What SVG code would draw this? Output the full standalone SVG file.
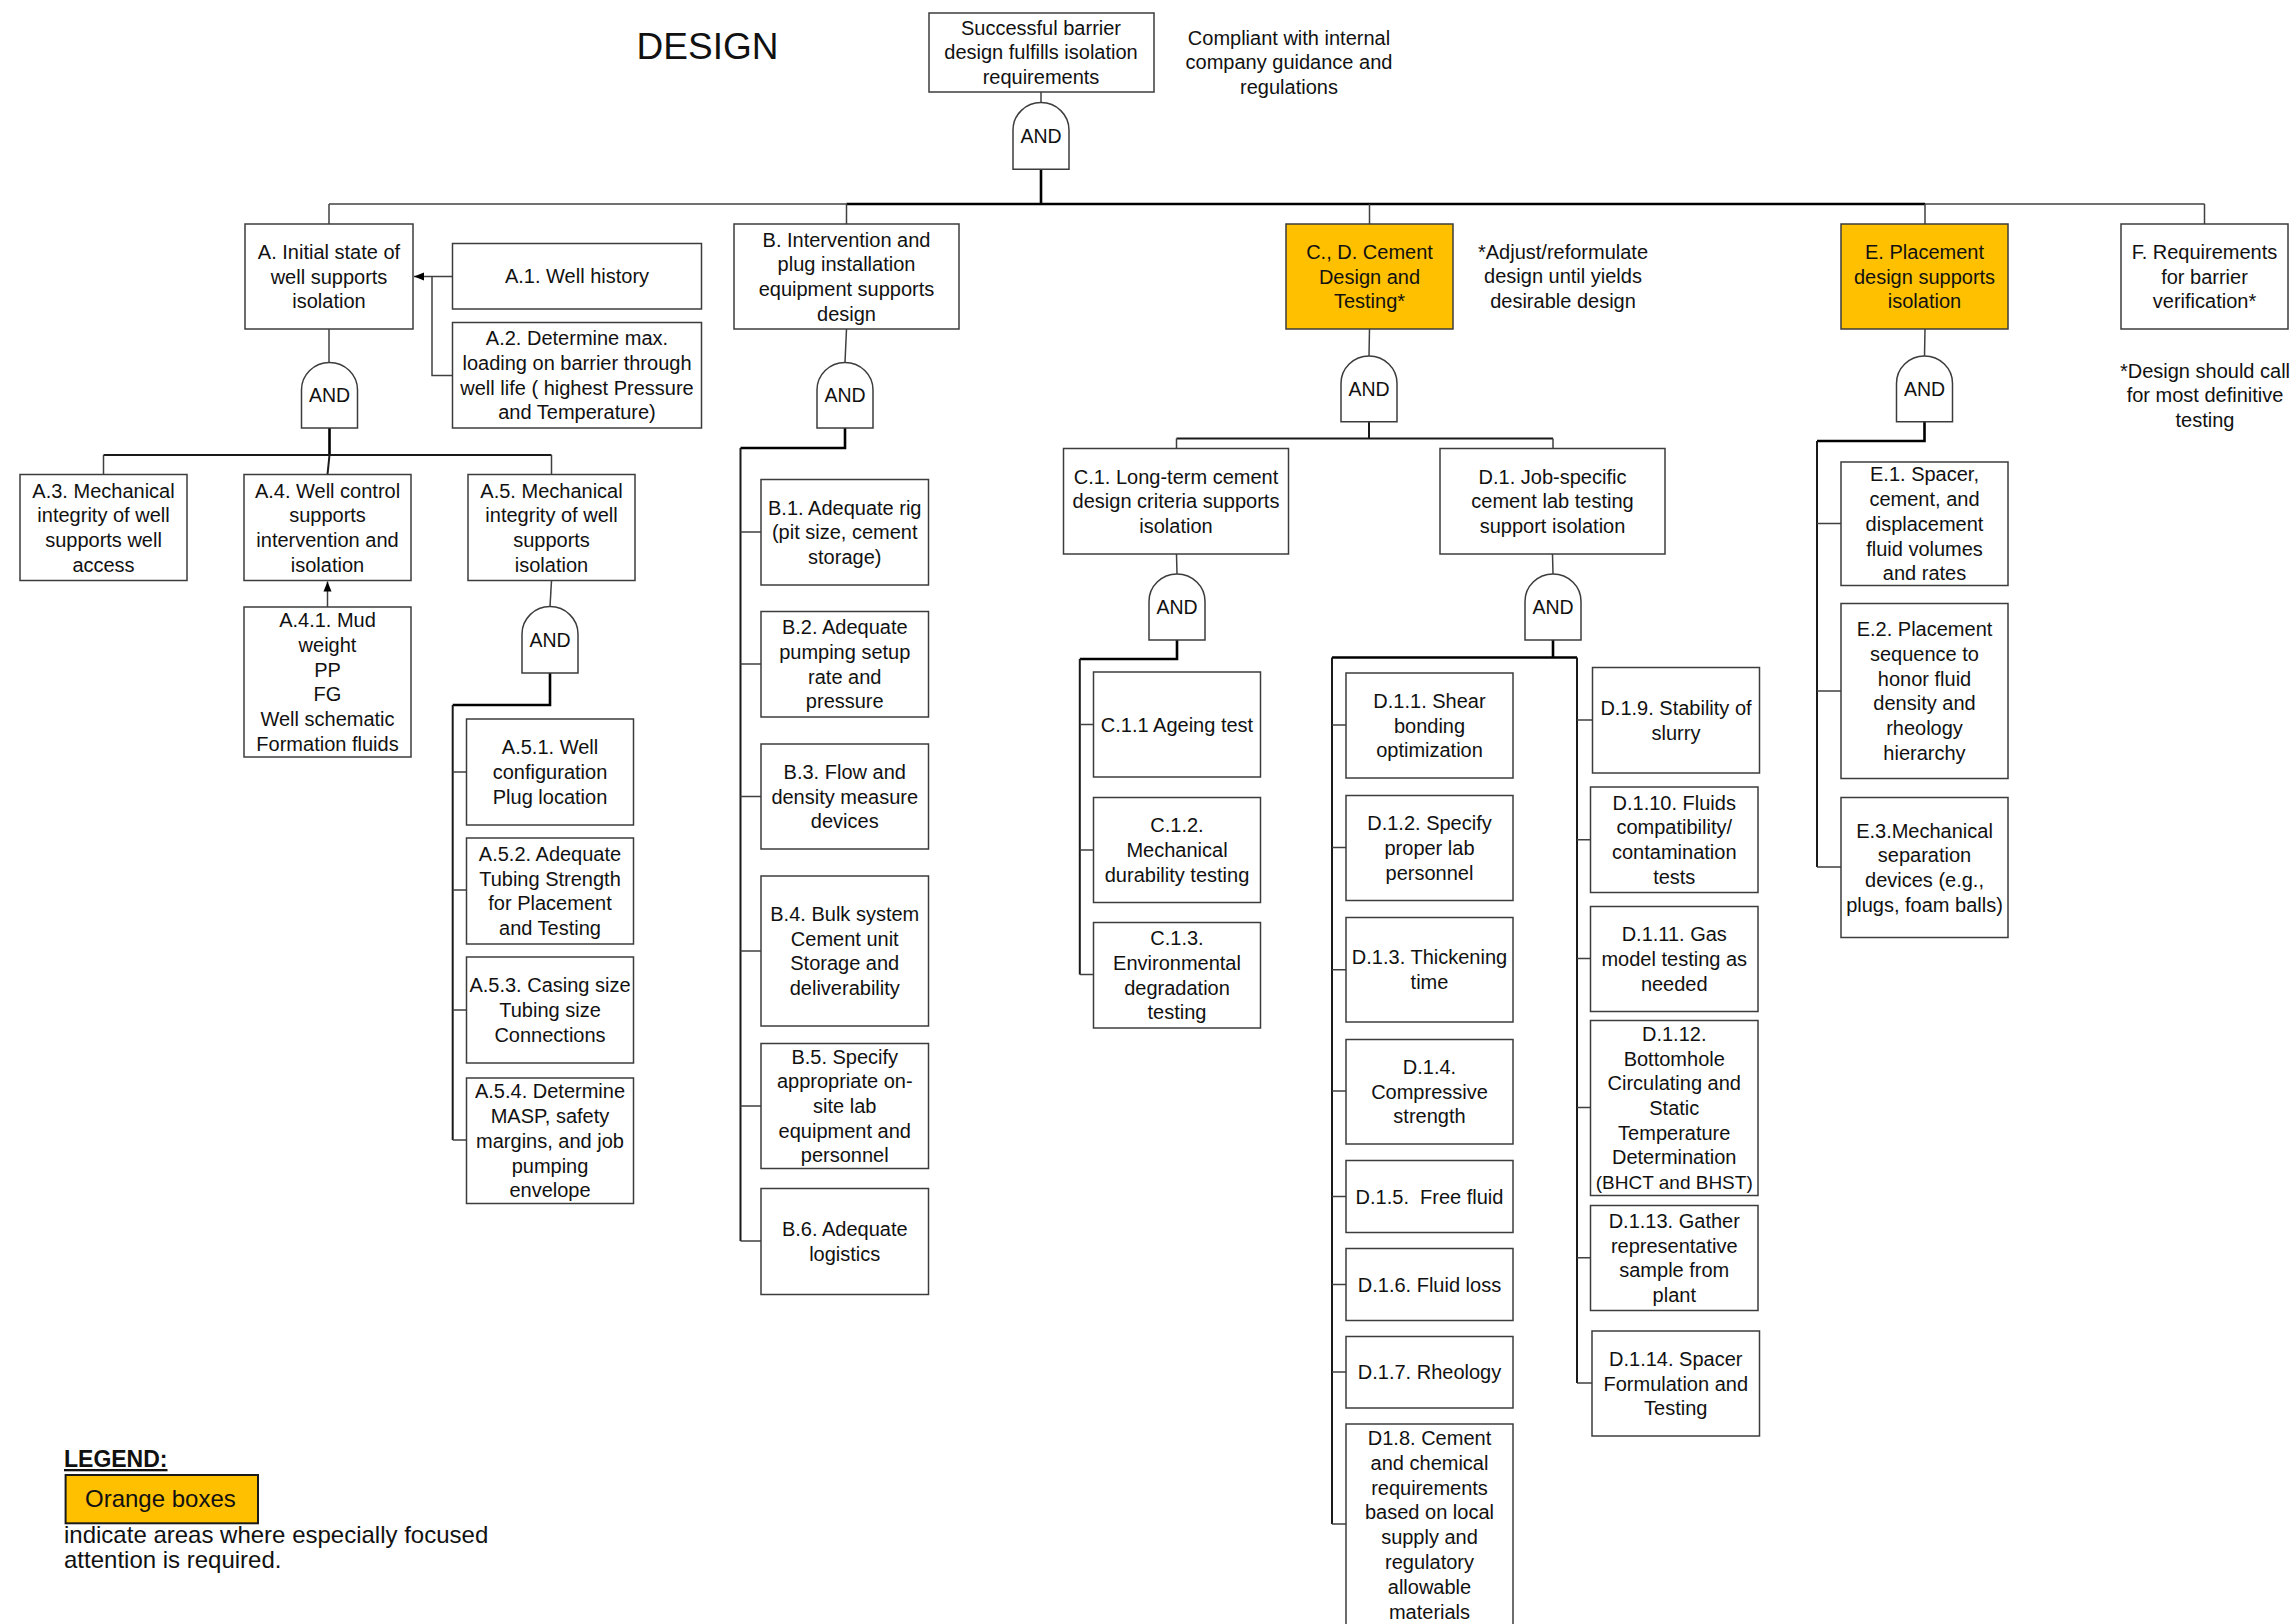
<svg xmlns="http://www.w3.org/2000/svg" width="2293" height="1624" viewBox="0 0 2293 1624">
  <style>
    .box { fill: #ffffff; stroke: #3c3c3c; stroke-width: 1.5; }
    .hl { fill: #ffc000; }
    .gate { fill: #ffffff; stroke: #3c3c3c; stroke-width: 1.5; }
    .t { font-family: "Liberation Sans", Arial, sans-serif; font-size: 20px; text-anchor: middle; fill: #111111; }
    .g { font-family: "Liberation Sans", Arial, sans-serif; font-size: 19.5px; text-anchor: middle; fill: #111111; }
    .c { fill: none; stroke: #404040; stroke-width: 1.5; }
    .m { fill: none; stroke: #1a1a1a; stroke-width: 2; }
    .k { fill: none; stroke: #000000; stroke-width: 2.6; }
    .lg { font-family: "Liberation Sans", Arial, sans-serif; font-size: 24px; fill: #111111; }
  </style>
  <defs>
    <marker id="arrow" markerUnits="userSpaceOnUse" markerWidth="11" markerHeight="10" refX="10" refY="5" orient="auto">
      <path d="M0,1 L10,5 L0,9 Z" fill="#000000"/>
    </marker>
  </defs>
  <rect width="2293" height="1624" fill="#ffffff"/>

  <text x="707.5" y="59" font-family="Liberation Sans, Arial, sans-serif" font-size="37" text-anchor="middle" fill="#111111">DESIGN</text>

  <!-- connectors -->
  <g id="connectors">
    <path class="c" d="M1041 92 V102.6"/>
    <path class="k" d="M1041 169.2 V204"/>
    <path class="c" d="M329 204 H846.5"/>
    <path class="k" d="M846.5 204 H1925"/>
    <path class="c" d="M1925 204 H2204.5"/>
    <path class="c" d="M329 204 V224 M846.5 204 V224 M1369.5 204 V224 M1925 204 V224 M2204.5 204 V224"/>

    <!-- A branch -->
    <path class="c" d="M329 329 V362.4"/>
    <path class="k" d="M329.5 428 V455"/>
    <path class="m" d="M103.5 455 H551.5"/>
    <path class="c" d="M103.5 455 V474.5 M551.5 455 V474.5"/>
    <path class="m" d="M329.5 455 L327.5 474.5"/>
    <path class="c" d="M452.5 276.5 H414" marker-end="url(#arrow)"/>
    <path class="c" d="M452.5 375.5 H432 V276.5"/>
    <path class="c" d="M327.5 607 V581.5" marker-end="url(#arrow)"/>
    <path class="c" d="M551.5 580.6 L550 606.6"/>
    <path class="k" d="M550 673 V705 H452.7"/>
    <path class="m" d="M452.7 705 V1140"/>
    <path class="c" d="M452.7 772 H466.5 M452.7 890 H466.5 M452.7 1010 H466.5 M452.7 1140 H466.5"/>

    <!-- B branch -->
    <path class="c" d="M846.5 329 L845 362.4"/>
    <path class="k" d="M845 428 V448 H740.5"/>
    <path class="m" d="M740.5 448 V1241"/>
    <path class="c" d="M740.5 532 H761 M740.5 664 H761 M740.5 796.5 H761 M740.5 951 H761 M740.5 1106 H761 M740.5 1241 H761"/>

    <!-- C, D branch -->
    <path class="c" d="M1369.5 329 L1369 356"/>
    <path class="m" d="M1369 421.7 V438.6"/>
    <path class="m" d="M1176.5 438.6 H1553"/>
    <path class="c" d="M1176.5 438.6 V448.5 M1553 438.6 V448.5"/>

    <path class="c" d="M1176.5 554 L1177 574"/>
    <path class="k" d="M1177 640 V659 H1079.8"/>
    <path class="m" d="M1079.8 659 V974.6"/>
    <path class="c" d="M1079.8 724.5 H1093.5 M1079.8 850 H1093.5 M1079.8 974.6 H1093.5"/>

    <path class="c" d="M1552.5 554 L1553 574"/>
    <path class="k" d="M1553 640 V657.5"/>
    <path class="k" d="M1332 657.5 H1577"/>
    <path class="m" d="M1332 657.5 V1524 M1577 657.5 V1383"/>
    <path class="c" d="M1332 725 H1346 M1332 847.5 H1346 M1332 969.7 H1346 M1332 1091 H1346 M1332 1196.5 H1346 M1332 1284.5 H1346 M1332 1372 H1346 M1332 1524 H1346"/>
    <path class="c" d="M1577 720 H1592.5 M1577 839.7 H1590.5 M1577 958.6 H1590.5 M1577 1107.5 H1590.5 M1577 1257.7 H1590.5 M1577 1383 H1592"/>

    <!-- E branch -->
    <path class="c" d="M1925 329 L1924.5 356"/>
    <path class="k" d="M1924.5 421.7 V441 H1817"/>
    <path class="m" d="M1817 441 V867"/>
    <path class="c" d="M1817 523.5 H1841 M1817 691 H1841 M1817 867 H1841"/>
  </g>

  <!-- AND gates -->
  <g id="gate-top">
    <path class="gate" d="M1013 169.2 V130 A28 27.4 0 0 1 1069 130 V169.2 Z"/>
    <text class="g" x="1041" y="143">AND</text>
  </g>
  <g id="gate-a">
    <path class="gate" d="M301.5 428 V389.8 A28 27.4 0 0 1 357.5 389.8 V428 Z"/>
    <text class="g" x="329.5" y="402.3">AND</text>
  </g>
  <g id="gate-b">
    <path class="gate" d="M817 428 V389.8 A28 27.4 0 0 1 873 389.8 V428 Z"/>
    <text class="g" x="845" y="402.3">AND</text>
  </g>
  <g id="gate-cd">
    <path class="gate" d="M1341 421.7 V383.4 A28 27.4 0 0 1 1397 383.4 V421.7 Z"/>
    <text class="g" x="1369" y="396">AND</text>
  </g>
  <g id="gate-e">
    <path class="gate" d="M1896.5 421.7 V383.4 A28 27.4 0 0 1 1952.5 383.4 V421.7 Z"/>
    <text class="g" x="1924.5" y="396">AND</text>
  </g>
  <g id="gate-a5">
    <path class="gate" d="M522 673 V634 A28 27.4 0 0 1 578 634 V673 Z"/>
    <text class="g" x="550" y="647">AND</text>
  </g>
  <g id="gate-c1">
    <path class="gate" d="M1149 640 V601.4 A28 27.4 0 0 1 1205 601.4 V640 Z"/>
    <text class="g" x="1177" y="614.2">AND</text>
  </g>
  <g id="gate-d1">
    <path class="gate" d="M1525 640 V601.4 A28 27.4 0 0 1 1581 601.4 V640 Z"/>
    <text class="g" x="1553" y="614.2">AND</text>
  </g>

  <!-- top event -->
  <g id="top">
    <rect class="box" x="929" y="13" width="225" height="79"/>
    <text class="t" x="1041" y="34.7"><tspan x="1041">Successful barrier</tspan><tspan x="1041" dy="24.7">design fulfills isolation</tspan><tspan x="1041" dy="24.7">requirements</tspan></text>
  </g>
  <g id="note-compliant">
    <text class="t" x="1289" y="44.6"><tspan x="1289">Compliant with internal</tspan><tspan x="1289" dy="24.7">company guidance and</tspan><tspan x="1289" dy="24.7">regulations</tspan></text>
  </g>

  <!-- A -->
  <g id="node-a">
    <rect class="box" x="245" y="224" width="168" height="105"/>
    <text class="t" x="329" y="258.8"><tspan x="329">A. Initial state of</tspan><tspan x="329" dy="24.7">well supports</tspan><tspan x="329" dy="24.7">isolation</tspan></text>
  </g>
  <g id="node-a1">
    <rect class="box" x="452.5" y="243.5" width="249" height="65.5"/>
    <text class="t" x="577" y="283.3">A.1. Well history</text>
  </g>
  <g id="node-a2">
    <rect class="box" x="452.5" y="322.5" width="249" height="105.5"/>
    <text class="t" x="577" y="345.3"><tspan x="577">A.2. Determine max.</tspan><tspan x="577" dy="24.7">loading on barrier through</tspan><tspan x="577" dy="24.7">well life ( highest Pressure</tspan><tspan x="577" dy="24.7">and Temperature)</tspan></text>
  </g>
  <g id="node-a3">
    <rect class="box" x="20" y="474.5" width="167" height="106"/>
    <text class="t" x="103.5" y="497.5"><tspan x="103.5">A.3. Mechanical</tspan><tspan x="103.5" dy="24.7">integrity of well</tspan><tspan x="103.5" dy="24.7">supports well</tspan><tspan x="103.5" dy="24.7">access</tspan></text>
  </g>
  <g id="node-a4">
    <rect class="box" x="244" y="474.5" width="167" height="106"/>
    <text class="t" x="327.5" y="497.5"><tspan x="327.5">A.4. Well control</tspan><tspan x="327.5" dy="24.7">supports</tspan><tspan x="327.5" dy="24.7">intervention and</tspan><tspan x="327.5" dy="24.7">isolation</tspan></text>
  </g>
  <g id="node-a5">
    <rect class="box" x="468" y="474.5" width="167" height="106"/>
    <text class="t" x="551.5" y="497.5"><tspan x="551.5">A.5. Mechanical</tspan><tspan x="551.5" dy="24.7">integrity of well</tspan><tspan x="551.5" dy="24.7">supports</tspan><tspan x="551.5" dy="24.7">isolation</tspan></text>
  </g>
  <g id="node-a41">
    <rect class="box" x="244" y="607" width="167" height="150"/>
    <text class="t" x="327.5" y="627.3"><tspan x="327.5">A.4.1. Mud</tspan><tspan x="327.5" dy="24.7">weight</tspan><tspan x="327.5" dy="24.7">PP</tspan><tspan x="327.5" dy="24.7">FG</tspan><tspan x="327.5" dy="24.7">Well schematic</tspan><tspan x="327.5" dy="24.7">Formation fluids</tspan></text>
  </g>
  <g id="node-a51">
    <rect class="box" x="466.5" y="719" width="167" height="106"/>
    <text class="t" x="550" y="754.3"><tspan x="550">A.5.1. Well</tspan><tspan x="550" dy="24.7">configuration</tspan><tspan x="550" dy="24.7">Plug location</tspan></text>
  </g>
  <g id="node-a52">
    <rect class="box" x="466.5" y="838" width="167" height="106"/>
    <text class="t" x="550" y="861"><tspan x="550">A.5.2. Adequate</tspan><tspan x="550" dy="24.7">Tubing Strength</tspan><tspan x="550" dy="24.7">for Placement</tspan><tspan x="550" dy="24.7">and Testing</tspan></text>
  </g>
  <g id="node-a53">
    <rect class="box" x="466.5" y="957" width="167" height="106"/>
    <text class="t" x="550" y="992.3"><tspan x="550">A.5.3. Casing size</tspan><tspan x="550" dy="24.7">Tubing size</tspan><tspan x="550" dy="24.7">Connections</tspan></text>
  </g>
  <g id="node-a54">
    <rect class="box" x="466.5" y="1078" width="167" height="125.5"/>
    <text class="t" x="550" y="1098.4"><tspan x="550">A.5.4. Determine</tspan><tspan x="550" dy="24.7">MASP, safety</tspan><tspan x="550" dy="24.7">margins, and job</tspan><tspan x="550" dy="24.7">pumping</tspan><tspan x="550" dy="24.7">envelope</tspan></text>
  </g>

  <!-- B -->
  <g id="node-b">
    <rect class="box" x="734" y="224" width="225" height="105"/>
    <text class="t" x="846.5" y="246.5"><tspan x="846.5">B. Intervention and</tspan><tspan x="846.5" dy="24.7">plug installation</tspan><tspan x="846.5" dy="24.7">equipment supports</tspan><tspan x="846.5" dy="24.7">design</tspan></text>
  </g>
  <g id="node-b1">
    <rect class="box" x="761" y="479.5" width="167.5" height="105.5"/>
    <text class="t" x="844.75" y="514.6"><tspan x="844.75">B.1. Adequate rig</tspan><tspan x="844.75" dy="24.7">(pit size, cement</tspan><tspan x="844.75" dy="24.7">storage)</tspan></text>
  </g>
  <g id="node-b2">
    <rect class="box" x="761" y="611.5" width="167.5" height="105.5"/>
    <text class="t" x="844.75" y="634.2"><tspan x="844.75">B.2. Adequate</tspan><tspan x="844.75" dy="24.7">pumping setup</tspan><tspan x="844.75" dy="24.7">rate and</tspan><tspan x="844.75" dy="24.7">pressure</tspan></text>
  </g>
  <g id="node-b3">
    <rect class="box" x="761" y="744" width="167.5" height="105"/>
    <text class="t" x="844.75" y="778.8"><tspan x="844.75">B.3. Flow and</tspan><tspan x="844.75" dy="24.7">density measure</tspan><tspan x="844.75" dy="24.7">devices</tspan></text>
  </g>
  <g id="node-b4">
    <rect class="box" x="761" y="876" width="167.5" height="150"/>
    <text class="t" x="844.75" y="921"><tspan x="844.75">B.4. Bulk system</tspan><tspan x="844.75" dy="24.7">Cement unit</tspan><tspan x="844.75" dy="24.7">Storage and</tspan><tspan x="844.75" dy="24.7">deliverability</tspan></text>
  </g>
  <g id="node-b5">
    <rect class="box" x="761" y="1043.5" width="167.5" height="125"/>
    <text class="t" x="844.75" y="1063.6"><tspan x="844.75">B.5. Specify</tspan><tspan x="844.75" dy="24.7">appropriate on-</tspan><tspan x="844.75" dy="24.7">site lab</tspan><tspan x="844.75" dy="24.7">equipment and</tspan><tspan x="844.75" dy="24.7">personnel</tspan></text>
  </g>
  <g id="node-b6">
    <rect class="box" x="761" y="1188.5" width="167.5" height="106"/>
    <text class="t" x="844.75" y="1236.2"><tspan x="844.75">B.6. Adequate</tspan><tspan x="844.75" dy="24.7">logistics</tspan></text>
  </g>

  <!-- C, D -->
  <g id="node-cd">
    <rect class="box hl" x="1286" y="224" width="167" height="105"/>
    <text class="t" x="1369.5" y="258.8"><tspan x="1369.5">C., D. Cement</tspan><tspan x="1369.5" dy="24.7">Design and</tspan><tspan x="1369.5" dy="24.7">Testing*</tspan></text>
  </g>
  <g id="note-adjust">
    <text class="t" x="1563" y="258.5"><tspan x="1563">*Adjust/reformulate</tspan><tspan x="1563" dy="24.9">design until yields</tspan><tspan x="1563" dy="24.9">desirable design</tspan></text>
  </g>
  <g id="node-c1">
    <rect class="box" x="1063.5" y="448.5" width="225" height="105.5"/>
    <text class="t" x="1176" y="483.6"><tspan x="1176">C.1. Long-term cement</tspan><tspan x="1176" dy="24.7">design criteria supports</tspan><tspan x="1176" dy="24.7">isolation</tspan></text>
  </g>
  <g id="node-d1">
    <rect class="box" x="1440" y="448.5" width="225" height="105.5"/>
    <text class="t" x="1552.5" y="483.6"><tspan x="1552.5">D.1. Job-specific</tspan><tspan x="1552.5" dy="24.7">cement lab testing</tspan><tspan x="1552.5" dy="24.7">support isolation</tspan></text>
  </g>
  <g id="node-c11">
    <rect class="box" x="1093.5" y="672" width="167" height="105"/>
    <text class="t" x="1177" y="731.5">C.1.1 Ageing test</text>
  </g>
  <g id="node-c12">
    <rect class="box" x="1093.5" y="797.5" width="167" height="105"/>
    <text class="t" x="1177" y="832.3"><tspan x="1177">C.1.2.</tspan><tspan x="1177" dy="24.7">Mechanical</tspan><tspan x="1177" dy="24.7">durability testing</tspan></text>
  </g>
  <g id="node-c13">
    <rect class="box" x="1093.5" y="922.5" width="167" height="105.5"/>
    <text class="t" x="1177" y="945.2"><tspan x="1177">C.1.3.</tspan><tspan x="1177" dy="24.7">Environmental</tspan><tspan x="1177" dy="24.7">degradation</tspan><tspan x="1177" dy="24.7">testing</tspan></text>
  </g>
  <g id="node-d11">
    <rect class="box" x="1346" y="673" width="167" height="105"/>
    <text class="t" x="1429.5" y="707.8"><tspan x="1429.5">D.1.1. Shear</tspan><tspan x="1429.5" dy="24.7">bonding</tspan><tspan x="1429.5" dy="24.7">optimization</tspan></text>
  </g>
  <g id="node-d12">
    <rect class="box" x="1346" y="795.5" width="167" height="105"/>
    <text class="t" x="1429.5" y="830.3"><tspan x="1429.5">D.1.2. Specify</tspan><tspan x="1429.5" dy="24.7">proper lab</tspan><tspan x="1429.5" dy="24.7">personnel</tspan></text>
  </g>
  <g id="node-d13">
    <rect class="box" x="1346" y="917.5" width="167" height="104.5"/>
    <text class="t" x="1429.5" y="964.4"><tspan x="1429.5">D.1.3. Thickening</tspan><tspan x="1429.5" dy="24.7">time</tspan></text>
  </g>
  <g id="node-d14">
    <rect class="box" x="1346" y="1039.5" width="167" height="104.5"/>
    <text class="t" x="1429.5" y="1074"><tspan x="1429.5">D.1.4.</tspan><tspan x="1429.5" dy="24.7">Compressive</tspan><tspan x="1429.5" dy="24.7">strength</tspan></text>
  </g>
  <g id="node-d15">
    <rect class="box" x="1346" y="1160.5" width="167" height="72"/>
    <text class="t" x="1429.5" y="1203.5" xml:space="preserve">D.1.5.  Free fluid</text>
  </g>
  <g id="node-d16">
    <rect class="box" x="1346" y="1248.5" width="167" height="72"/>
    <text class="t" x="1429.5" y="1291.5">D.1.6. Fluid loss</text>
  </g>
  <g id="node-d17">
    <rect class="box" x="1346" y="1336.5" width="167" height="71.5"/>
    <text class="t" x="1429.5" y="1379.3">D.1.7. Rheology</text>
  </g>
  <g id="node-d18">
    <rect class="box" x="1346" y="1424" width="167" height="230"/>
    <text class="t" x="1429.5" y="1445"><tspan x="1429.5">D1.8. Cement</tspan><tspan x="1429.5" dy="24.8">and chemical</tspan><tspan x="1429.5" dy="24.8">requirements</tspan><tspan x="1429.5" dy="24.8">based on local</tspan><tspan x="1429.5" dy="24.8">supply and</tspan><tspan x="1429.5" dy="24.8">regulatory</tspan><tspan x="1429.5" dy="24.8">allowable</tspan><tspan x="1429.5" dy="24.8">materials</tspan></text>
  </g>
  <g id="node-d19">
    <rect class="box" x="1592.5" y="667.5" width="167" height="105.5"/>
    <text class="t" x="1676" y="714.9"><tspan x="1676">D.1.9. Stability of</tspan><tspan x="1676" dy="24.7">slurry</tspan></text>
  </g>
  <g id="node-d110">
    <rect class="box" x="1590.5" y="787" width="167.5" height="105.5"/>
    <text class="t" x="1674.25" y="809.7"><tspan x="1674.25">D.1.10. Fluids</tspan><tspan x="1674.25" dy="24.7">compatibility/</tspan><tspan x="1674.25" dy="24.7">contamination</tspan><tspan x="1674.25" dy="24.7">tests</tspan></text>
  </g>
  <g id="node-d111">
    <rect class="box" x="1590.5" y="906.5" width="167.5" height="105"/>
    <text class="t" x="1674.25" y="941.3"><tspan x="1674.25">D.1.11. Gas</tspan><tspan x="1674.25" dy="24.7">model testing as</tspan><tspan x="1674.25" dy="24.7">needed</tspan></text>
  </g>
  <g id="node-d112">
    <rect class="box" x="1590.5" y="1020.5" width="167.5" height="175"/>
    <text class="t" x="1674.25" y="1040.9"><tspan x="1674.25">D.1.12.</tspan><tspan x="1674.25" dy="24.7">Bottomhole</tspan><tspan x="1674.25" dy="24.7">Circulating and</tspan><tspan x="1674.25" dy="24.7">Static</tspan><tspan x="1674.25" dy="24.7">Temperature</tspan><tspan x="1674.25" dy="24.7">Determination</tspan><tspan x="1674.25" dy="24.7" font-size="19">(BHCT and BHST)</tspan></text>
  </g>
  <g id="node-d113">
    <rect class="box" x="1590.5" y="1205.5" width="167.5" height="105"/>
    <text class="t" x="1674.25" y="1228"><tspan x="1674.25">D.1.13. Gather</tspan><tspan x="1674.25" dy="24.7">representative</tspan><tspan x="1674.25" dy="24.7">sample from</tspan><tspan x="1674.25" dy="24.7">plant</tspan></text>
  </g>
  <g id="node-d114">
    <rect class="box" x="1592" y="1331" width="167.5" height="105"/>
    <text class="t" x="1675.75" y="1365.8"><tspan x="1675.75">D.1.14. Spacer</tspan><tspan x="1675.75" dy="24.7">Formulation and</tspan><tspan x="1675.75" dy="24.7">Testing</tspan></text>
  </g>

  <!-- E -->
  <g id="node-e">
    <rect class="box hl" x="1841" y="224" width="167" height="105"/>
    <text class="t" x="1924.5" y="258.8"><tspan x="1924.5">E. Placement</tspan><tspan x="1924.5" dy="24.7">design supports</tspan><tspan x="1924.5" dy="24.7">isolation</tspan></text>
  </g>
  <g id="node-e1">
    <rect class="box" x="1841" y="462" width="167" height="123.5"/>
    <text class="t" x="1924.5" y="481.4"><tspan x="1924.5">E.1. Spacer,</tspan><tspan x="1924.5" dy="24.7">cement, and</tspan><tspan x="1924.5" dy="24.7">displacement</tspan><tspan x="1924.5" dy="24.7">fluid volumes</tspan><tspan x="1924.5" dy="24.7">and rates</tspan></text>
  </g>
  <g id="node-e2">
    <rect class="box" x="1841" y="603.5" width="167" height="175"/>
    <text class="t" x="1924.5" y="636.3"><tspan x="1924.5">E.2. Placement</tspan><tspan x="1924.5" dy="24.7">sequence to</tspan><tspan x="1924.5" dy="24.7">honor fluid</tspan><tspan x="1924.5" dy="24.7">density and</tspan><tspan x="1924.5" dy="24.7">rheology</tspan><tspan x="1924.5" dy="24.7">hierarchy</tspan></text>
  </g>
  <g id="node-e3">
    <rect class="box" x="1841" y="797.5" width="167" height="140"/>
    <text class="t" x="1924.5" y="837.5"><tspan x="1924.5">E.3.Mechanical</tspan><tspan x="1924.5" dy="24.7">separation</tspan><tspan x="1924.5" dy="24.7">devices (e.g.,</tspan><tspan x="1924.5" dy="24.7">plugs, foam balls)</tspan></text>
  </g>

  <!-- F -->
  <g id="node-f">
    <rect class="box" x="2121" y="224" width="167" height="105"/>
    <text class="t" x="2204.5" y="258.8"><tspan x="2204.5">F. Requirements</tspan><tspan x="2204.5" dy="24.7">for barrier</tspan><tspan x="2204.5" dy="24.7">verification*</tspan></text>
  </g>
  <g id="note-definitive">
    <text class="t" x="2205" y="377.5"><tspan x="2205">*Design should call</tspan><tspan x="2205" dy="24.8">for most definitive</tspan><tspan x="2205" dy="24.8">testing</tspan></text>
  </g>

  <!-- legend -->
  <g id="legend">
    <text x="64" y="1467" font-family="Liberation Sans, Arial, sans-serif" font-size="23" font-weight="bold" text-decoration="underline" fill="#111111">LEGEND:</text>
    <rect x="65.6" y="1475" width="192.4" height="48.3" fill="#ffc000" stroke="#1a1a1a" stroke-width="2"/>
    <text class="lg" x="85" y="1507">Orange boxes</text>
    <text class="lg" x="64" y="1543">indicate areas where especially focused</text>
    <text class="lg" x="64" y="1568">attention is required.</text>
  </g>
</svg>
